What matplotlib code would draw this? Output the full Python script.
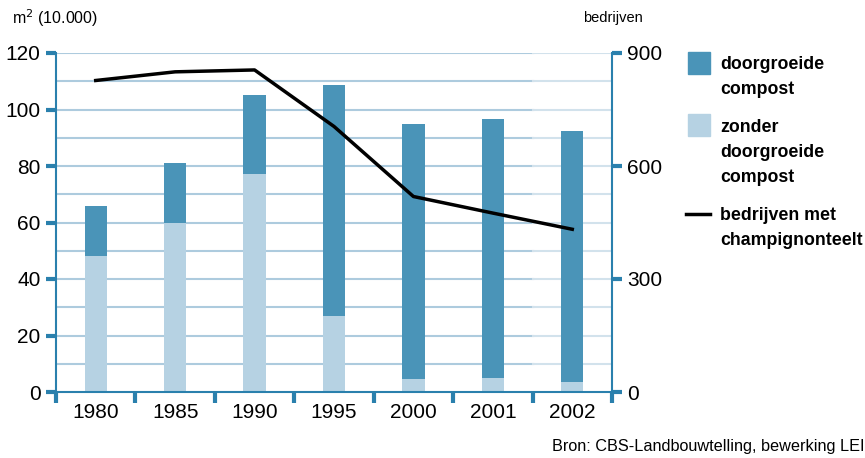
import matplotlib
matplotlib.use("Agg")
import matplotlib.pyplot as plt
from matplotlib.patches import Rectangle
from matplotlib.lines import Line2D

years = ["1980", "1985", "1990", "1995", "2000", "2001", "2002"]
zonder = [48, 60, 77, 27, 4.5, 5, 3.5]          # light part (m2 x 10.000)
totaal = [66, 81, 105, 108.5, 94.7, 96.5, 92.5]  # total bar height
doorgroeid = [t - z for t, z in zip(totaal, zonder)]
bedrijven = [827, 850, 855, 705, 519, 475, 432]

left_ticks = [0, 20, 40, 60, 80, 100, 120]
right_ticks = [0, 300, 600, 900]

DARK = "#4a94b8"
LIGHT = "#b6d2e3"
AXC = "#2a80ad"
GRID = "#adcbde"
GRID2 = "#d2e2ec"

plt.rcParams['font.family'] = ['Liberation Sans', 'DejaVu Sans']

fig = plt.figure(figsize=(8.65, 4.58), dpi=100)
ax = fig.add_axes([56/865, 1-392/458, (612-56)/865, (392-53)/458])
x = list(range(len(years)))

# gridlines every 10
for g in range(10, 121, 10):
    ax.plot([-0.5, 5.5], [g, g], color=GRID, lw=1.5, zorder=0)
    ax.plot([5.5, 6.5], [g, g], color=GRID2, lw=1.5, zorder=0)

ax.bar(x, zonder, width=0.28, color=LIGHT, zorder=2)
ax.bar(x, doorgroeid, bottom=zonder, width=0.28, color=DARK, zorder=2)

ax.set_xlim(-0.5, 6.5)
ax.set_ylim(0, 120)
ax.set_yticks(left_ticks)
ax.set_yticklabels([str(v) for v in left_ticks], fontsize=15)
ax.set_xticks([i - 0.5 for i in range(len(years) + 1)])
ax.set_xticklabels([])
ax.set_xticks(x, minor=True)
ax.set_xticklabels(years, minor=True, fontsize=15)
ax.tick_params(axis='x', which='minor', length=0, pad=8)
ax.tick_params(axis='x', which='major', direction='out', length=8, width=3, color=AXC)
ax.tick_params(axis='y', direction='out', length=7, width=3, color=AXC, pad=4)

for s in ['top', 'right']:
    ax.spines[s].set_visible(False)
for s in ['left', 'bottom']:
    ax.spines[s].set_color(AXC)
    ax.spines[s].set_linewidth(1.5)

ax2 = ax.twinx()
ax2.plot(x, bedrijven, color="black", lw=2.5, zorder=3)
ax2.set_ylim(0, 900)
ax2.set_yticks(right_ticks)
ax2.set_yticklabels([str(v) for v in right_ticks], fontsize=15)
ax2.tick_params(axis='y', direction='out', length=7, width=3, color=AXC, pad=4)
for s in ['top', 'left', 'bottom']:
    ax2.spines[s].set_visible(False)
ax2.spines['right'].set_color(AXC)
ax2.spines['right'].set_linewidth(1.5)

fig.text(12/865, 1-18/458, "m$^2$ (10.000)", fontsize=11.5, va='center', ha='left')
fig.text(583/865, 1-18/458, "bedrijven", fontsize=10.5, va='center', ha='left')
fig.text(1.0, 1-447/458, "Bron: CBS-Landbouwtelling, bewerking LEI", fontsize=11.7,
         va='center', ha='right')

# legend
def fx(px): return px/865
def fy(py): return 1-py/458
fig.patches.append(Rectangle((fx(688), fy(74)), 22/865, 22/458, color=DARK,
                             transform=fig.transFigure, figure=fig))
fig.patches.append(Rectangle((fx(688), fy(136)), 22/865, 22/458, color=LIGHT,
                             transform=fig.transFigure, figure=fig))
fig.lines.append(Line2D([fx(686), fx(710)], [fy(214), fy(214)], color='black', lw=2.5,
                        transform=fig.transFigure, figure=fig))
leg_texts = [("doorgroeide\ncompost", 56), ("zonder\ndoorgroeide\ncompost", 119),
             ("bedrijven met\nchampignonteelt", 207)]
for t, ytop in leg_texts:
    fig.text(fx(720), fy(ytop), t, fontsize=12.8, fontweight='bold',
             va='top', ha='left', linespacing=1.62)

fig.savefig("out.png", dpi=100)
